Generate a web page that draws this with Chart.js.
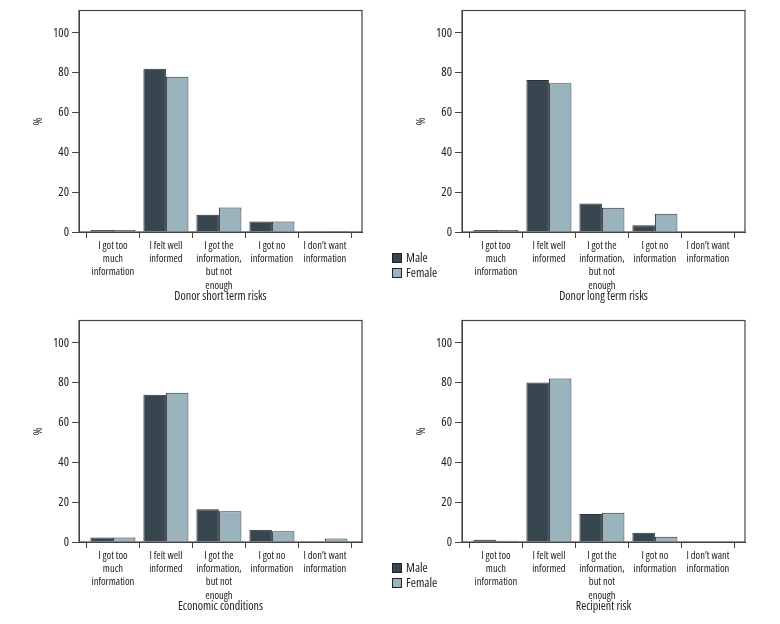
<!DOCTYPE html>
<html>
<head>
<meta charset="utf-8">
<script src="https://cdn.jsdelivr.net/npm/chart.js@4/dist/chart.umd.min.js"></script>
<style>
  body { margin: 0; background: #fff; }
  #wrap { position: relative; width: 780px; height: 624px; }
  .panel { position: absolute; width: 383px; height: 310px; }
  .legend { position: absolute; left: 392px; font-family: 'Open Sans', sans-serif; font-size: 12.5px; font-stretch: condensed; color: #222; z-index: 2; }
  .legend div { height: 14.5px; line-height: 14.5px; white-space: nowrap; }
  .legend span { display: inline-block; width: 8px; height: 8px; border: 1px solid #222; vertical-align: -1px; margin-right: 4px; }
</style>
</head>
<body>
<div id="wrap">
  <div class="panel" style="left:0;top:0"><canvas id="c1" width="383" height="310"></canvas></div>
  <div class="panel" style="left:383px;top:0"><canvas id="c2" width="383" height="310"></canvas></div>
  <div class="panel" style="left:0;top:310px"><canvas id="c3" width="383" height="310"></canvas></div>
  <div class="panel" style="left:383px;top:310px"><canvas id="c4" width="383" height="310"></canvas></div>
  <div class="legend" style="top:251px"><div><span style="background:#37464f"></span>Male</div><div><span style="background:#9ab3bd"></span>Female</div></div>
  <div class="legend" style="top:561px"><div><span style="background:#37464f"></span>Male</div><div><span style="background:#9ab3bd"></span>Female</div></div>
</div>
<script>
var categorias = [
  ["I got too", "much", "information"],
  ["I felt well", "informed"],
  ["I got the", "information,", "but not", "enough"],
  ["I got no", "information"],
  ["I don\u2019t want", "information"]
];
var yTicks = [0, 20, 40, 60, 80, 100];

var curtoMale = [1, 82, 8.7, 5.3, 0.4];
var curtoFemale = [1, 78, 12.3, 5.3, 0.5];
var longoMale = [1, 76.4, 14.3, 3.4, 0.3];
var longoFemale = [1, 74.8, 12.2, 9.2, 0.3];
var economiaMale = [2.3, 74, 16.4, 6.2, 0.3];
var economiaFemale = [2.2, 75, 15.5, 5.4, 1.7];
var receptorMale = [1.1, 80.2, 14.1, 4.7, 0.3];
var receptorFemale = [0.6, 82.1, 14.7, 2.7, 0.3];

const fonte = "'Open Sans', sans-serif";
const largura = "normal condensed"; // vai no lugar do weight, o canvas aceita
const corTexto = "#222";

// moldura em volta da area do grafico
const moldura = {
  id: "moldura",
  afterDatasetsDraw(chart) {
    const a = chart.chartArea, ctx = chart.ctx;
    ctx.save();
    ctx.strokeStyle = "#444";
    ctx.lineWidth = 1.2;
    ctx.strokeRect(a.left, a.top, a.right - a.left, a.bottom - a.top);
    ctx.restore();
  }
};

const pontos = (valores) => valores.map((v, i) => ({x: i, y: v}));

function grafico(id, titulo, male, female) {
  new Chart(id, {
    type: "bar",
    data: {
      datasets: [
        {label: "Male", data: pontos(male), backgroundColor: "#37464f", borderColor: "#2a3035", borderWidth: 1},
        {label: "Female", data: pontos(female), backgroundColor: "#9ab3bd", borderColor: "#2a3035", borderWidth: 1}
      ]
    },
    options: {
      responsive: false,
      animation: false,
      categoryPercentage: 0.85,
      barPercentage: 1,
      layout: {padding: {left: 24, top: 8, right: 21, bottom: 0}},
      plugins: {legend: {display: false}, tooltip: {enabled: false}},
      scales: {
        x: {
          type: "linear",
          offset: false,
          bounds: "data",
          min: -0.64,
          max: 4.7,
          afterBuildTicks: (axis) => { axis.ticks = categorias.map((c, i) => ({value: i})); },
          afterFit: (scale) => { scale.height = 78; },
          grid: {drawOnChartArea: false, tickLength: 6, color: "#444"},
          border: {color: "#444", width: 1},
          ticks: {
            autoSkip: false, maxRotation: 0, padding: 1, color: corTexto,
            font: {family: fonte, weight: largura, size: 10.5, lineHeight: 1.27},
            callback: (v) => categorias[v]
          },
          title: {display: true, text: titulo, color: corTexto, font: {family: fonte, weight: largura, size: 12, lineHeight: 1.2}, padding: {top: 0, bottom: 6}}
        },
        y: {
          min: 0,
          max: 111.3,
          afterBuildTicks: (axis) => { axis.ticks = yTicks.map(v => ({value: v})); },
          afterFit: (scale) => { scale.width = 55; },
          grid: {drawOnChartArea: false, tickLength: 7, color: "#444"},
          border: {color: "#444", width: 1},
          ticks: {padding: 3, color: corTexto, font: {family: fonte, weight: largura, size: 12.5}},
          title: {display: true, text: "%", color: corTexto, font: {family: fonte, weight: largura, size: 12, lineHeight: 1.2}, padding: {top: 7, bottom: 0}}
        }
      }
    },
    plugins: [moldura]
  });
}

grafico("c1", "Donor short term risks", curtoMale, curtoFemale);
grafico("c2", "Donor long term risks", longoMale, longoFemale);
grafico("c3", "Economic conditions", economiaMale, economiaFemale);
grafico("c4", "Recipient risk", receptorMale, receptorFemale);
</script>
</body>
</html>
